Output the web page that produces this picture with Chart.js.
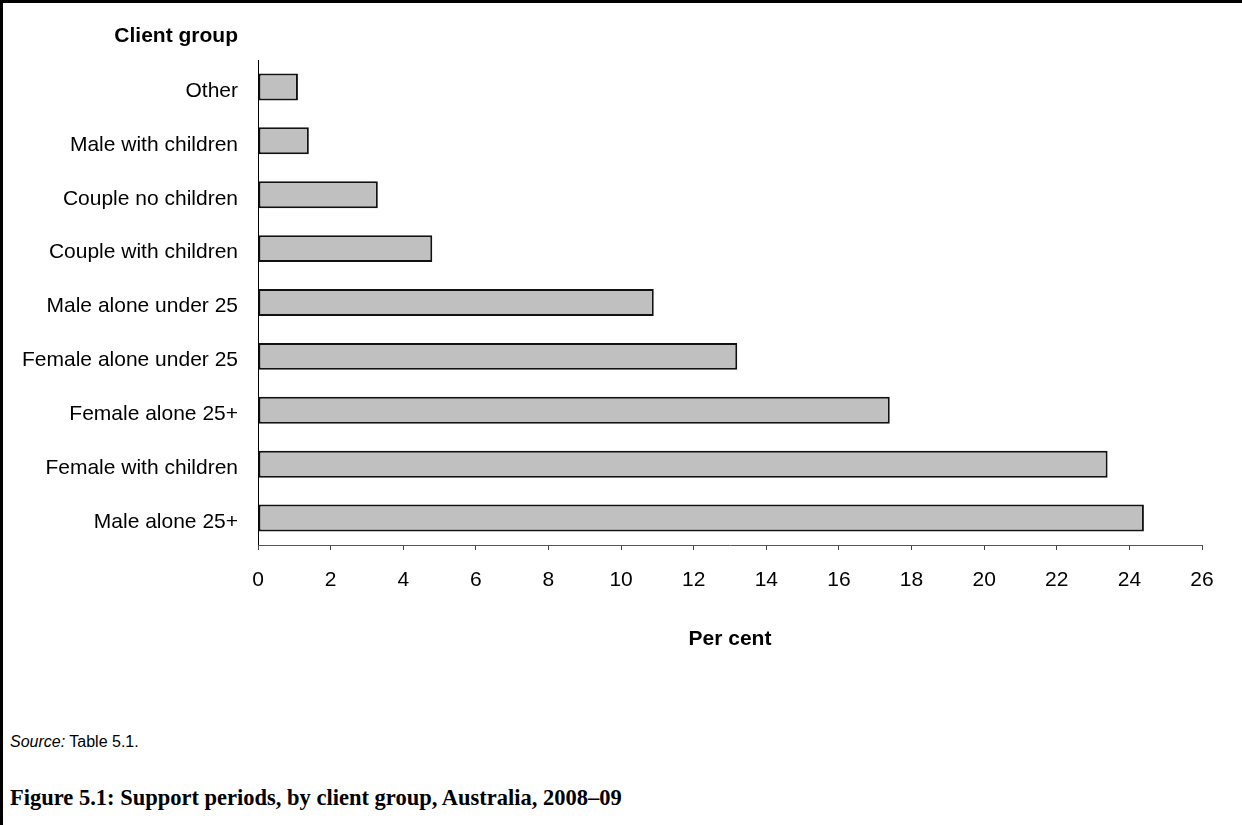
<!DOCTYPE html>
<html>
<head>
<meta charset="utf-8">
<title>Support periods, by client group</title>
<script src="https://cdn.jsdelivr.net/npm/chart.js@4.4.1/dist/chart.umd.min.js"></script>
<style>
  html, body { margin: 0; padding: 0; background: #fff; }
  #page { position: relative; width: 1242px; height: 825px; overflow: hidden; background: #fff; }
  .rule { position: absolute; background: #000; }
  #ruleTop { left: 0; top: 0; width: 1242px; height: 3px; }
  #ruleLeft { left: 0; top: 0; width: 3px; height: 825px; }
  #chart { position: absolute; left: 0; top: 0; }
  .txt { position: absolute; white-space: nowrap; color: #000; line-height: 1; }
  #yTitle { left: 0; width: 238px; top: 23px; text-align: right;
            font: bold 21px "Liberation Sans", Arial, sans-serif; line-height: 24px; }
  #source { left: 10px; top: 733px; font: 16px "Liberation Sans", Arial, sans-serif; }
  #caption { left: 10px; top: 785px; font: bold 22.5px "Liberation Serif", "Times New Roman", serif; }
</style>
</head>
<body>
<div id="page">
  <canvas id="chart" width="1242" height="700"></canvas>
  <div class="txt" id="yTitle">Client group</div>
  <div class="txt" id="source"><i>Source:</i> Table 5.1.</div>
  <div class="txt" id="caption">Figure 5.1: Support periods, by client group, Australia, 2008–09</div>
  <div class="rule" id="ruleTop"></div>
  <div class="rule" id="ruleLeft"></div>
</div>
<script>
// Client groups, listed top to bottom
const categories = [
  'Other',
  'Male with children',
  'Couple no children',
  'Couple with children',
  'Male alone under 25',
  'Female alone under 25',
  'Female alone 25+',
  'Female with children',
  'Male alone 25+'
];

// Share of support periods (per cent)
const perCent = [1.1, 1.4, 3.3, 4.8, 10.9, 13.2, 17.4, 23.4, 24.4];

// Value axis tick labels
const xTickValues = [0, 2, 4, 6, 8, 10, 12, 14, 16, 18, 20, 22, 24, 26];

const labelFont = { family: '"Liberation Sans", Arial, sans-serif', size: 21 };

new Chart(document.getElementById('chart'), {
  type: 'bar',
  data: {
    labels: categories,
    datasets: [{
      data: perCent,
      backgroundColor: '#c0c0c0',
      borderColor: '#111',
      borderWidth: 2,
      borderSkipped: false,
      barPercentage: 0.5,
      categoryPercentage: 1
    }]
  },
  options: {
    indexAxis: 'y',
    responsive: false,
    animation: false,
    events: [],
    layout: { padding: { left: 0, top: 60, right: 40, bottom: 45 } },
    plugins: {
      legend: { display: false },
      tooltip: { enabled: false },
      title: { display: false }
    },
    scales: {
      y: {
        type: 'category',
        afterFit: s => { s.width = 258; },
        grid: { display: false, drawTicks: false },
        border: { display: true, color: '#000', width: 1 },
        ticks: { color: '#000', font: labelFont, padding: 20, labelOffset: 4 }
      },
      x: {
        type: 'linear',
        min: xTickValues[0],
        max: xTickValues[xTickValues.length - 1],
        afterFit: s => { s.height = 110; },
        afterBuildTicks: s => { s.ticks = xTickValues.map(v => ({ value: v })); },
        grid: {
          display: true,
          drawOnChartArea: false,
          drawTicks: true,
          tickLength: 5,
          color: '#444',
          lineWidth: 1
        },
        border: { display: true, color: '#555', width: 1 },
        ticks: { color: '#000', font: labelFont, padding: 18, maxRotation: 0, autoSkip: false },
        title: {
          display: true,
          text: 'Per cent',
          color: '#000',
          font: { family: labelFont.family, size: 21, weight: 'bold' },
          padding: { top: 0, bottom: 3 }
        }
      }
    }
  }
});
</script>
</body>
</html>
